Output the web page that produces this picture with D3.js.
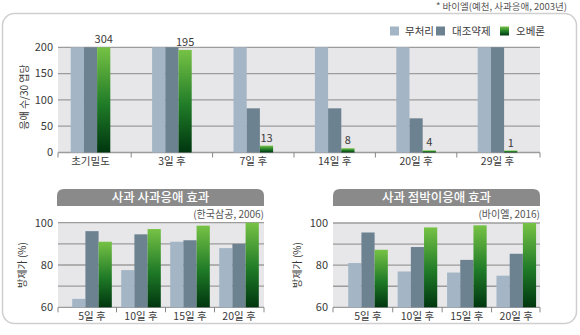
<!DOCTYPE html>
<html><head><meta charset="utf-8">
<script src="https://cdn.jsdelivr.net/npm/d3@7"></script>
<style>
body{margin:0;background:#fff;}
svg{display:block;font-family:"Noto Sans CJK KR","Noto Sans",sans-serif;}
</style></head>
<body><svg id="c" width="580" height="335"></svg>
<script>
// ---- data ----
const series = ["무처리", "대조약제", "오베론"];
const topCategories = ["초기밀도", "3일 후", "7일 후", "14일 후", "20일 후", "29일 후"];
const topUntreated = [200, 200, 200, 200, 200, 200];
const topControl = [200, 200, 84, 84, 65, 200];
const topOberon = [304, 195, 13, 8, 4, 1];
const topTicks = [0, 50, 100, 150, 200];

const botCategories = ["5일 후", "10일 후", "15일 후", "20일 후"];
const leftUntreated = [64, 77.6, 91, 88];
const leftControl = [96, 94.5, 91.7, 90];
const leftOberon = [91, 97, 98.6, 100];
const rightUntreated = [81, 77, 76.5, 75];
const rightControl = [95.5, 88.6, 82.5, 85.4];
const rightOberon = [87.3, 97.9, 98.9, 100];
const botTicks = [60, 80, 100];
const botGrid = [60, 70, 80, 90, 100];

const svg = d3.select("#c");
const defs = svg.append("defs");
const grad = defs.append("linearGradient").attr("id", "g").attr("x1", 0).attr("y1", 0).attr("x2", 0).attr("y2", 1);
grad.append("stop").attr("offset", "0%").attr("stop-color", "#76c245");
grad.append("stop").attr("offset", "55%").attr("stop-color", "#1f7a27");
grad.append("stop").attr("offset", "100%").attr("stop-color", "#00360f");
const colors = ["#a4b6c5", "#6d8291", "url(#g)"];
const textCol = "#3a3a3a";

// outer frame
svg.append("rect").attr("x", 2.5).attr("y", 13.5).attr("width", 574).attr("height", 310)
  .attr("rx", 12).attr("fill", "none").attr("stroke", "#cfcfcf").attr("stroke-width", 1.5);

// footnote
svg.append("text").attr("x", 567).attr("y", 10).attr("text-anchor", "end")
  .attr("font-size", 9.5).attr("fill", "#555").text("* 바이엘(예천, 사과응애, 2003년)");

// legend
const legX = [390, 436, 500], legTX = [405, 452, 516];
series.forEach((s, i) => {
  svg.append("rect").attr("x", legX[i]).attr("y", 26.5).attr("width", 9).attr("height", 9).attr("fill", colors[i]);
  svg.append("text").attr("x", legTX[i]).attr("y", 35).attr("font-size", 10.5).attr("fill", textCol).text(s);
});

function drawChart(o) {
  const g = svg.append("g");
  const y = d3.scaleLinear().domain(o.domain).range([o.y0, o.y1]).clamp(true);
  const x = d3.scaleBand().domain(o.cats).range(o.xr).padding(0);
  const xs = d3.scaleBand().domain(series).range([-19.8, 19.8]);
  g.append("rect").attr("x", o.left).attr("y", o.y1).attr("width", o.right - o.left)
    .attr("height", o.y0 - o.y1).attr("fill", "#e7e7e9");
  g.selectAll(".gl").data(o.grid).join("line")
    .attr("x1", o.left).attr("x2", o.right)
    .attr("y1", d => y(d)).attr("y2", d => y(d))
    .attr("stroke", "#9c9c9c").attr("stroke-width", 1.3);
  g.selectAll(".yl").data(o.ticks).join("text")
    .attr("x", o.left - 5).attr("y", d => y(d)).attr("dy", "0.35em")
    .attr("text-anchor", "end").attr("font-size", 11).attr("fill", textCol).text(d => d);
  const vals = [o.a, o.b, o.c];
  series.forEach((s, si) => {
    g.selectAll(".b" + si).data(o.cats).join("rect")
      .attr("x", d => x(d) + x.bandwidth() / 2 + xs(s))
      .attr("width", xs.bandwidth())
      .attr("y", (d, i) => Math.min(y(vals[si][i]), o.y0 - 2))
      .attr("height", (d, i) => Math.max(o.y0 - y(vals[si][i]), 2))
      .attr("fill", colors[si]);
  });
  const tks = [o.left].concat(o.cats.slice(1).map(d => x(d))).concat([o.right]);
  g.selectAll(".xt").data(tks).join("line")
    .attr("x1", d => d).attr("x2", d => d).attr("y1", o.y0).attr("y2", o.y0 + 5)
    .attr("stroke", "#888").attr("stroke-width", 1);
  g.selectAll(".xl").data(o.cats).join("text")
    .attr("x", d => x(d) + x.bandwidth() / 2).attr("y", o.y0 + 9).attr("dy", "0.35em")
    .attr("text-anchor", "middle").attr("font-size", 10.5).attr("fill", textCol).text(d => d);
  g.append("text").attr("transform", `translate(${o.tx},${o.ty}) rotate(-90)`)
    .attr("text-anchor", "middle").attr("dy", "0.35em").attr("font-size", 10).attr("fill", textCol).text(o.ytitle);
  return {x, xs, y, g};
}

const t = drawChart({cats: topCategories, a: topUntreated, b: topControl, c: topOberon,
  domain: [0, 200], y0: 152.5, y1: 47.3, xr: [49.8, 538.2], left: 58, right: 540,
  grid: topTicks, ticks: topTicks, tx: 24, ty: 97, ytitle: "응애 수/30 엽당"});
t.g.selectAll(".vl").data(topCategories).join("text")
  .attr("x", d => t.x(d) + t.x.bandwidth() / 2 + t.xs("오베론") + t.xs.bandwidth() / 2)
  .attr("y", (d, i) => Math.min(t.y(topOberon[i]), 150.5) - 4)
  .attr("text-anchor", "middle").attr("font-size", 11).attr("fill", textCol)
  .text((d, i) => topOberon[i]);

function titleBar(x0, x1, title, sub) {
  const r = 7, yT = 189, yB = 206;
  svg.append("path").attr("d",
    `M${x0},${yB} L${x0},${yT + r} Q${x0},${yT} ${x0 + r},${yT} L${x1 - r},${yT} Q${x1},${yT} ${x1},${yT + r} L${x1},${yB} Z`)
    .attr("fill", "#8a8a8a");
  svg.append("text").attr("x", (x0 + x1) / 2).attr("y", (yT + yB) / 2 + 0.5).attr("dy", "0.35em")
    .attr("text-anchor", "middle").attr("font-size", 12.5).attr("font-weight", 500).attr("fill", "#fff").text(title);
  svg.append("text").attr("x", x1).attr("y", 214).attr("dy", "0.35em")
    .attr("text-anchor", "end").attr("font-size", 10).attr("fill", "#555").text(sub);
}
titleBar(57, 264, "사과 사과응애 효과", "(한국삼공, 2006)");
titleBar(333, 540, "사과 점박이응애 효과", "(바이엘, 2016)");

drawChart({cats: botCategories, a: leftUntreated, b: leftControl, c: leftOberon,
  domain: [60, 100], y0: 307.3, y1: 222.7, xr: [67.5, 263.5], left: 58, right: 264,
  grid: botGrid, ticks: botTicks, tx: 22, ty: 265, ytitle: "방제가 (%)"});
drawChart({cats: botCategories, a: rightUntreated, b: rightControl, c: rightOberon,
  domain: [60, 100], y0: 307.3, y1: 223, xr: [343.3, 541], left: 333, right: 540,
  grid: botGrid, ticks: botTicks, tx: 297, ty: 265, ytitle: "방제가 (%)"});
</script>
</body></html>
